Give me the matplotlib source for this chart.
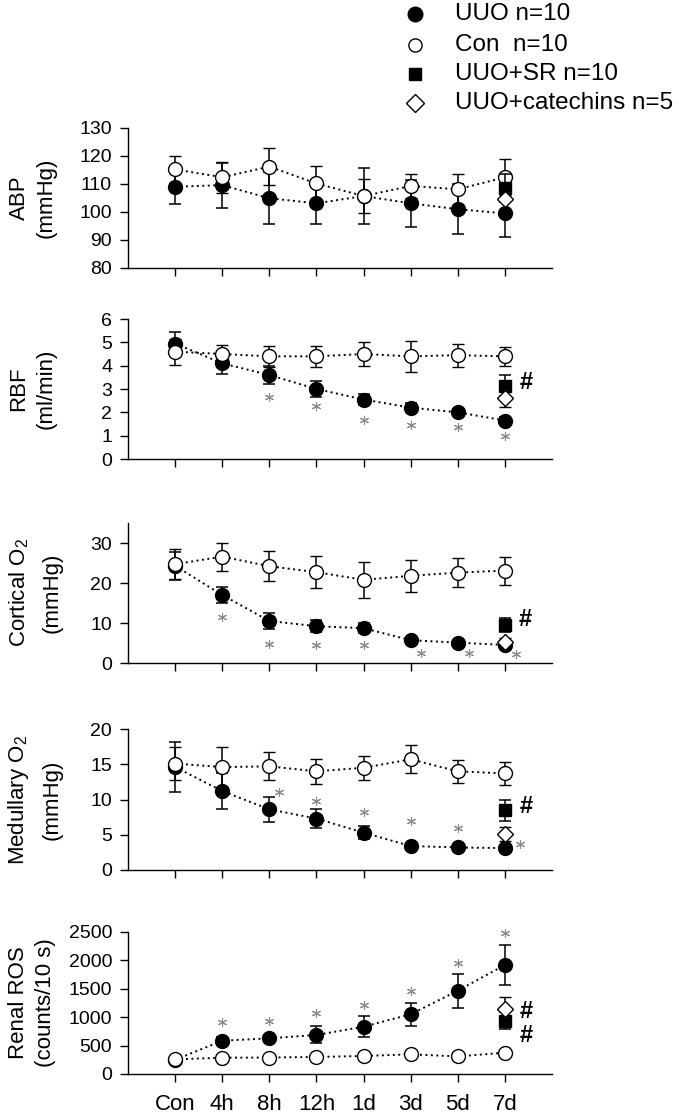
import matplotlib
matplotlib.use('Agg')
import matplotlib.pyplot as plt
from matplotlib.transforms import offset_copy
from matplotlib.lines import Line2D

plt.rcParams['font.family'] = ['Liberation Sans', 'DejaVu Sans']
plt.rcParams['mathtext.fontset'] = 'custom'
plt.rcParams['mathtext.rm'] = 'Liberation Sans'
plt.rcParams['mathtext.it'] = 'Liberation Sans:italic'
plt.rcParams['mathtext.bf'] = 'Liberation Sans:bold'

# ---------------- data ----------------
time_labels = ['Con', '4h', '8h', '12h', '1d', '3d', '5d', '7d']
series_names = ['UUO n=10', 'Con  n=10', 'UUO+SR n=10', 'UUO+catechins n=5']

abp_uuo = [109.0, 109.6, 104.9, 103.1, 105.7, 103.1, 101.0, 99.5]
abp_uuo_err = [6.0, 8.0, 9.3, 7.5, 10.1, 8.3, 9.0, 8.5]
abp_con = [115.2, 112.4, 116.2, 110.2, 105.7, 109.3, 108.1, 112.4]
abp_con_err = [4.7, 5.5, 6.5, 6.3, 6.0, 4.3, 5.5, 6.4]
abp_sr, abp_sr_err = 108.5, 5.0
abp_cat, abp_cat_err = 104.5, 4.0

rbf_uuo = [4.95, 4.1, 3.6, 3.0, 2.55, 2.2, 2.0, 1.65]
rbf_uuo_err = [0.5, 0.45, 0.4, 0.35, 0.25, 0.2, 0.15, 0.15]
rbf_con = [4.6, 4.5, 4.4, 4.4, 4.5, 4.4, 4.45, 4.4]
rbf_con_err = [0.55, 0.4, 0.45, 0.45, 0.5, 0.65, 0.5, 0.4]
rbf_sr, rbf_sr_err = 3.15, 0.45
rbf_cat, rbf_cat_err = 2.6, 0.35

cor_uuo = [24.3, 17.0, 10.5, 9.2, 8.7, 5.7, 5.1, 4.5]
cor_uuo_err = [3.5, 2.0, 2.0, 1.5, 1.2, 0.8, 0.7, 0.7]
cor_con = [24.7, 26.6, 24.2, 22.7, 20.8, 21.8, 22.6, 23.1]
cor_con_err = [3.7, 3.5, 3.8, 4.0, 4.5, 4.0, 3.7, 3.5]
cor_sr, cor_sr_err = 9.5, 1.7
cor_cat, cor_cat_err = 5.3, 1.0

med_uuo = [14.6, 11.2, 8.6, 7.3, 5.3, 3.4, 3.2, 3.1]
med_uuo_err = [3.5, 2.6, 1.8, 1.3, 0.9, 0.5, 0.4, 0.4]
med_con = [15.1, 14.6, 14.7, 14.0, 14.5, 15.7, 14.0, 13.7]
med_con_err = [2.3, 2.8, 2.0, 1.8, 1.7, 2.0, 1.6, 1.6]
med_sr, med_sr_err = 8.5, 1.5
med_cat, med_cat_err = 5.1, 1.0

ros_uuo = [250, 586, 628, 687, 833, 1051, 1467, 1919]
ros_uuo_err = [30, 60, 60, 150, 180, 205, 300, 345]
ros_con = [258, 287, 290, 300, 317, 346, 310, 375]
ros_con_err = [30, 35, 35, 40, 40, 40, 35, 40]
ros_sr, ros_sr_err = 940, 150
ros_cat, ros_cat_err = 1139, 210

# significance marks: (time index, dx px, dy px)
rbf_stars = [(2, 0, -22), (3, 0, -17), (4, 0, -20), (5, 0, -17), (6, 0, -15), (7, 0, -15)]
cor_stars = [(1, 0, -22), (2, 0, -23), (3, 0, -19), (4, 0, -17), (5, 10, -13), (6, 11, -10), (7, 11, -9)]
med_stars = [(2, 10, 17), (3, 0, 18), (4, 0, 21), (5, 0, 25), (6, 0, 19), (7, 15, 4)]
ros_stars = [(1, 0, 19), (2, 0, 17), (3, 0, 22), (4, 0, 22), (5, 0, 23), (6, 0, 28), (7, 0, 32)]

# ---------------- figure ----------------
W, H = 679, 1118
fig = plt.figure(figsize=(W / 100, H / 100), dpi=100)
x = list(range(len(time_labels)))
last = x[-1]

def rect(top, bottom):
    return [128 / W, 1 - bottom / H, (552 - 128) / W, (bottom - top) / H]

panels = [
    dict(top=128, bottom=268, ylim=(80, 130), yticks=[80, 90, 100, 110, 120, 130],
         l1='ABP', l2='(mmHg)', l2x=46,
         uuo=abp_uuo, uuo_e=abp_uuo_err, con=abp_con, con_e=abp_con_err,
         sr=(abp_sr, abp_sr_err), cat=(abp_cat, abp_cat_err), stars=[], hashes=[]),
    dict(top=319, bottom=459, ylim=(0, 6), yticks=[0, 1, 2, 3, 4, 5, 6],
         l1='RBF', l2='(ml/min)', l2x=46,
         uuo=rbf_uuo, uuo_e=rbf_uuo_err, con=rbf_con, con_e=rbf_con_err,
         sr=(rbf_sr, rbf_sr_err), cat=(rbf_cat, rbf_cat_err), stars=rbf_stars,
         hashes=[('sr', 15, 3)]),
    dict(top=523, bottom=663, ylim=(0, 35), yticks=[0, 10, 20, 30],
         l1='Cortical O$_2$', l2='(mmHg)', l2x=52,
         uuo=cor_uuo, uuo_e=cor_uuo_err, con=cor_con, con_e=cor_con_err,
         sr=(cor_sr, cor_sr_err), cat=(cor_cat, cor_cat_err), stars=cor_stars,
         hashes=[('sr', 14, 5)]),
    dict(top=729, bottom=870, ylim=(0, 20), yticks=[0, 5, 10, 15, 20],
         l1='Medullary O$_2$', l2='(mmHg)', l2x=52,
         uuo=med_uuo, uuo_e=med_uuo_err, con=med_con, con_e=med_con_err,
         sr=(med_sr, med_sr_err), cat=(med_cat, med_cat_err), stars=med_stars,
         hashes=[('sr', 15, 4)]),
    dict(top=932, bottom=1074, ylim=(0, 2500), yticks=[0, 500, 1000, 1500, 2000, 2500],
         l1='Renal ROS', l2='(counts/10 s)', l2x=46,
         uuo=ros_uuo, uuo_e=ros_uuo_err, con=ros_con, con_e=ros_con_err,
         sr=(ros_sr, ros_sr_err), cat=(ros_cat, ros_cat_err), stars=ros_stars,
         hashes=[('cat', 15, -2), ('sr', 15, -15)]),
]

eb_kw = dict(capsize=4.2, elinewidth=1.1, capthick=1.1, ecolor='black')

for i, p in enumerate(panels):
    ax = fig.add_axes(rect(p['top'], p['bottom']))
    ax.errorbar(x, p['uuo'], yerr=p['uuo_e'], fmt='o', ls=(0, (1, 1.8)), lw=1.4, color='black',
                mfc='black', mec='black', ms=10, zorder=3, **eb_kw)
    ax.errorbar(x, p['con'], yerr=p['con_e'], fmt='o', ls=(0, (1, 1.8)), lw=1.4, color='black',
                mfc='white', mec='black', mew=1.0, ms=10, zorder=4, **eb_kw)
    ax.errorbar([last], [p['sr'][0]], yerr=[p['sr'][1]], fmt='s', color='black',
                mfc='black', mec='black', ms=8.7, zorder=5, **eb_kw)
    ax.errorbar([last], [p['cat'][0]], yerr=[p['cat'][1]], fmt='D', color='black',
                mfc='white', mec='black', mew=1.0, ms=8.5, zorder=6, **eb_kw)

    for (xi, dx, dy) in p['stars']:
        tr = offset_copy(ax.transData, fig=fig, x=dx, y=dy, units='dots')
        ax.plot([xi], [p['uuo'][xi]], marker=(6, 2, 0), ms=6.5, mew=0.8, color='#8a8a8a',
                transform=tr, zorder=7, clip_on=False, ls='none')
    for (which, dx, dy) in p['hashes']:
        val = p['sr'][0] if which == 'sr' else p['cat'][0]
        tr = offset_copy(ax.transData, fig=fig, x=dx, y=dy, units='dots')
        ax.text(last, val, '#', transform=tr, ha='left', va='center', fontsize=17,
                fontweight='bold', zorder=8, clip_on=False)

    ax.set_xlim(-1, 8)
    ax.set_ylim(*p['ylim'])
    ax.set_yticks(p['yticks'])
    ax.set_xticks(x)
    if i == len(panels) - 1:
        ax.set_xticklabels(time_labels)
    else:
        ax.set_xticklabels([])
    for s in ['top', 'right']:
        ax.spines[s].set_visible(False)
    for s in ['left', 'bottom']:
        ax.spines[s].set_linewidth(1.0)
    ax.tick_params(axis='y', direction='out', length=5.5, width=1.0, labelsize=14, pad=6)
    ax.tick_params(axis='x', direction='out', length=5.5, width=1.0, labelsize=16, pad=9)

    yc = 1 - (p['top'] + p['bottom']) / 2 / H
    fig.text(19 / W, yc, p['l1'], rotation=90, ha='center', va='center', fontsize=16)
    fig.text(p['l2x'] / W, yc, p['l2'], rotation=90, ha='center', va='center', fontsize=16)

# legend (manual)
leg_rows = [14, 45, 74, 103]
leg_markers = [dict(marker='o', mfc='black', ms=10.5),
               dict(marker='o', mfc='white', ms=9.5),
               dict(marker='s', mfc='black', ms=9),
               dict(marker='D', mfc='white', ms=9)]
for ry, name, mk in zip(leg_rows, series_names, leg_markers):
    yy = 1 - ry / H
    fig.add_artist(Line2D([415 / W], [yy], transform=fig.transFigure, ls='none',
                          mec='black', mew=1.0, **mk))
    fig.text(455 / W, yy, name, ha='left', va='center', fontsize=17.5)

fig.savefig('out.png', dpi=100)
